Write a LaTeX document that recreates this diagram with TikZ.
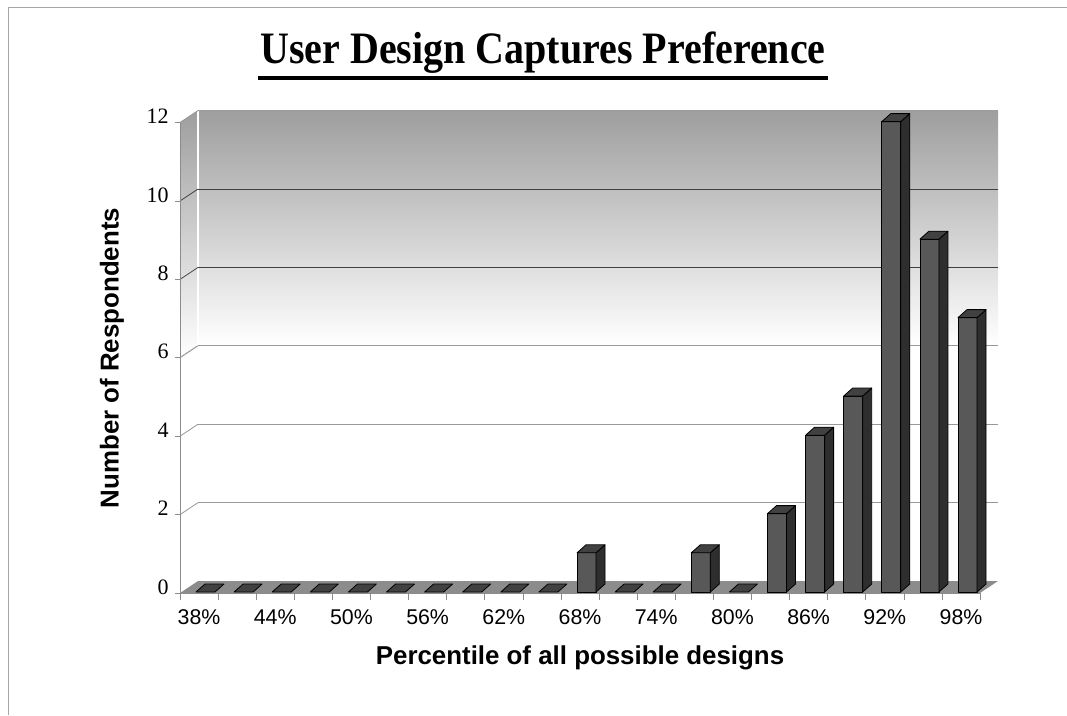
\documentclass[tikz,border=0pt]{standalone}
\usepackage{fontspec}
\setmainfont{Liberation Serif}
\setsansfont{Liberation Sans}
\definecolor{wallgray}{HTML}{9E9E9E}
\definecolor{floorgray}{HTML}{8C8C8C}
\definecolor{barfront}{HTML}{585858}
\definecolor{barside}{HTML}{2E2E2E}
\definecolor{bartop}{HTML}{414141}
\tikzset{
  gridline/.style={draw=black!75,line width=0.6pt},
  softgrid/.style={draw=black!40,line width=0.6pt},
  axisline/.style={draw=black!45,line width=0.5pt},
  barface/.style={draw=black,line width=0.6pt,line join=round},
  ticklabel/.style={font=\fontsize{16.5}{18}\selectfont,inner sep=0pt},
  catlabel/.style={font=\sffamily\fontsize{16}{18}\selectfont,inner sep=0pt},
  axistitle/.style={font=\sffamily\bfseries\fontsize{19.4}{22}\selectfont,inner sep=0pt}
}
\begin{document}
\begin{tikzpicture}[x=0.75pt,y=-0.75pt]
    \useasboundingbox (0,0) rectangle (1067,715);
    \draw[black!35] (8,715) -- (8,7) -- (1067,7);
    % title
    \node[anchor=base,inner sep=0pt] (title) at (543,63)
      {\scalebox{0.89}[1]{\fontsize{33.7}{36}\selectfont\bfseries User Design Captures Preference}};
    \draw[line width=3pt] (258,78) -- (828,78);
    % walls
    \fill[top color=wallgray,bottom color=white] (198,110.6) rectangle (998,345);
    \fill[top color=wallgray,bottom color=white] (180,122.6) -- (198,110.6) -- (198,345) -- (180,357) -- cycle;
    \draw[white,line width=1pt] (198,110.6) -- (198,581);
    \foreach \v in {8,10} {
      \draw[gridline] (198,{581-39.2*\v}) -- (998,{581-39.2*\v});
      \draw[gridline] (180,{593-39.2*\v}) -- (198,{581-39.2*\v});
    }
    \foreach \v in {2,4,6} {
      \draw[softgrid] (198,{581-39.2*\v}) -- (998,{581-39.2*\v});
      \draw[softgrid] (180,{593-39.2*\v}) -- (198,{581-39.2*\v});
    }
    \draw[softgrid] (180,122.6) -- (198,110.6);
    % axis and floor
    \fill[floorgray] (180,593) -- (980,593) -- (998,581) -- (198,581) -- cycle;
    \draw[axisline] (180,122.6) -- (180,600);
    \draw[axisline] (180,593) -- (980,593);
    \foreach \v in {0,2,...,12} {
      \draw[axisline] (175,{593-39.2*\v}) -- (180,{593-39.2*\v});
      \node[ticklabel,anchor=east] (yl-\v) at (169,{587-39.2*\v}) {\v};
    }
    \foreach \k in {1,...,21}
      \draw[axisline] ({180+38.1*\k},593) -- ++(0,7);
    % bars
    \foreach \v [count=\i from 0] in {0,0,0,0,0,0,0,0,0,0,1,0,0,1,0,2,4,5,12,9,7} {
      \pgfmathsetmacro{\xa}{196+38.1*\i}
      \pgfmathsetmacro{\xb}{\xa+19}
      \pgfmathsetmacro{\yt}{592-39.2*\v}
      \ifnum\v=0
        \filldraw[barface,fill=bartop] (\xa,592) -- (\xb,592) -- (\xb+9,584) -- (\xa+9,584) -- cycle;
      \else
        \filldraw[barface,fill=barfront] (\xa,592) rectangle (\xb,\yt);
        \filldraw[barface,fill=barside] (\xb,592) -- (\xb+9,584) -- (\xb+9,\yt-8) -- (\xb,\yt) -- cycle;
        \filldraw[barface,fill=bartop] (\xa,\yt) -- (\xb,\yt) -- (\xb+9,\yt-8) -- (\xa+9,\yt-8) -- cycle;
      \fi
    }
    % category labels
    \foreach \p [count=\i from 0] in {38,44,50,56,62,68,74,80,86,92,98}
      \node[catlabel] (xl-\p) at ({199+76.2*\i},617) {\p\%};
    \node[axistitle] (xtitle) at (580,658) {Percentile of all possible designs};
    \node[axistitle,rotate=90] (ytitle) at (112,358) {Number of Respondents};
\end{tikzpicture}
\end{document}
